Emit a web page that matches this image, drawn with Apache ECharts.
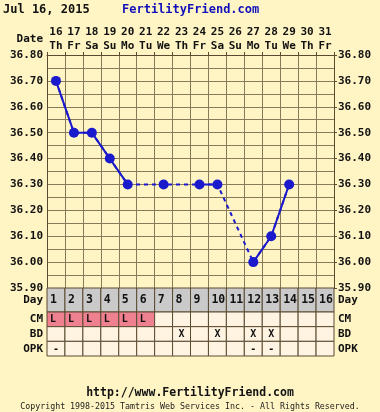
<!DOCTYPE html>
<html><head><meta charset="utf-8">
<script src="https://cdn.jsdelivr.net/npm/echarts@6/dist/echarts.min.js"></script>
<style>html,body{margin:0;padding:0;background:#FFF4C4;}#c{width:380px;height:412px;}</style>
</head><body><div id="c"></div>
<script>
const dates = ['16','17','18','19','20','21','22','23','24','25','26','27','28','29','30','31'];
const weekdays = ['Th','Fr','Sa','Su','Mo','Tu','We','Th','Fr','Sa','Su','Mo','Tu','We','Th','Fr'];
const temps = [36.70,36.50,36.50,36.40,36.30,null,36.30,null,36.30,36.30,null,36.00,36.10,36.30,null,null];
const cycleDays = ['1','2','3','4','5','6','7','8','9','10','11','12','13','14','15','16'];
const cm  = ['L','L','L','L','L','L','','','','','','','','','',''];
const bd  = ['','','','','','','','X','','X','','X','X','','',''];
const opk = ['-','','','','','','','','','','','-','-','','',''];
const yTicks = {min:35.9, max:36.8, interval:0.1};

const BG='#FFF4C4', GRID='#8A7A5A', DARK='#5A4A30', BLUE='#1A1ACC';
const MONO='"DejaVu Sans Mono", monospace';
const lab = {fontFamily:MONO, fontWeight:'bold', fontSize:11, color:'#111'};

const chart = echarts.init(document.getElementById('c'), null, {renderer:'canvas'});

function cellSeries(xAxisIndex, yAxisIndex, data, fillFn, fontSize){
  return {
    type:'custom', xAxisIndex, yAxisIndex, data, silent:true, z:5,
    renderItem(params, api){
      const c = api.coord([api.value(0), api.value(1)]);
      const s = api.size([1,1]);
      const txt = data[params.dataIndex][2];
      const row = data[params.dataIndex][3];
      const left = (row==='Day' || row==='CM');
      return {type:'group', children:[
        {type:'rect', shape:{x:c[0]-s[0]/2, y:c[1]-s[1]/2, width:s[0], height:s[1]},
         style:{fill:fillFn(txt,row), stroke:DARK, lineWidth:1}},
        {type:'text', x: left ? c[0]-s[0]/2+3 : c[0], y:c[1]+0.5, style:{text:txt, fill:'#111', fontFamily:MONO,
          fontWeight:'bold', fontSize:fontSize, align: left ? 'left' : 'center', verticalAlign:'middle'}}
      ]};
    }
  };
}

const dayData = cycleDays.map((d,i)=>[i,0,d,'Day']);
const rowNames = ['CM','BD','OPK'];
const obsData = [];
[cm,bd,opk].forEach((arr,r)=>arr.forEach((v,i)=>obsData.push([i,r,v,rowNames[r]])));

const option = {
  backgroundColor: BG,
  animation:false,
  grid:[
    {left:47, right:46, top:55, height:233},
    {left:47, right:46, top:288, height:24},
    {left:47, right:46, top:312, height:44}
  ],
  xAxis:[
    {gridIndex:0, type:'category', data:dates, boundaryGap:true, position:'bottom',
     axisLine:{show:false}, axisTick:{show:false}, axisLabel:{show:false},
     splitLine:{show:true, interval:0, lineStyle:{color:GRID, width:1}}},
    {gridIndex:0, type:'category', data:dates, boundaryGap:true, position:'top',
     axisLine:{show:true, lineStyle:{color:DARK}}, axisTick:{show:true, length:3, inside:false, interval:0, lineStyle:{color:DARK}},
     axisLabel:{interval:0, margin:2, formatter:(v,i)=>'{d|'+v+'}\n{w|'+weekdays[i]+'}',
       rich:{d:{...lab, lineHeight:14}, w:{...lab, lineHeight:14}}}},
    {gridIndex:1, type:'category', data:cycleDays, axisLine:{show:false}, axisTick:{show:false}, axisLabel:{show:false}, splitLine:{show:false}},
    {gridIndex:2, type:'category', data:cycleDays, axisLine:{show:false}, axisTick:{show:false}, axisLabel:{show:false}, splitLine:{show:false}}
  ],
  yAxis:[
    {gridIndex:0, type:'value', ...yTicks, position:'left',
     axisLine:{show:true, lineStyle:{color:DARK}}, axisTick:{show:false},
     axisLabel:{...lab, margin:4, formatter:v=>v.toFixed(2)},
     splitLine:{show:true, lineStyle:{color:GRID}},
     minorTick:{show:false, splitNumber:2}, minorSplitLine:{show:true, lineStyle:{color:GRID}}},
    {gridIndex:0, type:'value', ...yTicks, position:'right',
     axisLine:{show:true, lineStyle:{color:DARK}}, axisTick:{show:true, length:3, lineStyle:{color:DARK}},
     axisLabel:{...lab, margin:4, formatter:v=>v.toFixed(2)},
     splitLine:{show:false}},
    {gridIndex:1, type:'category', data:['Day'], position:'left', axisLine:{show:false}, axisTick:{show:false}, axisLabel:{...lab, margin:4}},
    {gridIndex:1, type:'category', data:['Day'], position:'right', axisLine:{show:false}, axisTick:{show:false}, axisLabel:{...lab, margin:4}},
    {gridIndex:2, type:'category', data:rowNames, inverse:true, position:'left', axisLine:{show:false}, axisTick:{show:false}, axisLabel:{...lab, margin:4}},
    {gridIndex:2, type:'category', data:rowNames, inverse:true, position:'right', axisLine:{show:false}, axisTick:{show:false}, axisLabel:{...lab, margin:4}}
  ],
  series:[
    {type:'line', xAxisIndex:0, yAxisIndex:0, data:temps, connectNulls:true, symbol:'none',
     lineStyle:{color:BLUE, width:2, type:[4,4]}, z:3},
    {type:'line', xAxisIndex:0, yAxisIndex:0, data:temps, connectNulls:false, symbol:'circle', symbolSize:10,
     itemStyle:{color:BLUE}, lineStyle:{color:BLUE, width:2}, z:4},
    cellSeries(2, 2, dayData, ()=> '#CACACA', 11.5),
    cellSeries(3, 4, obsData, (t,row)=> (row==='CM' && t==='L') ? '#EE8090' : '#FFF4E2', 10)
  ],
  graphic:[
    {type:'text', left:3, top:4, style:{text:'Jul 16, 2015', fontFamily:MONO, fontWeight:'bold', fontSize:12, fill:'#111'}},
    {type:'text', left:122, top:4, style:{text:'FertilityFriend.com', fontFamily:MONO, fontWeight:'bold', fontSize:12, fill:'#1111BB'}},
    {type:'text', right:337, top:34, style:{text:'Date', fontFamily:MONO, fontWeight:'bold', fontSize:11, fill:'#111', align:'right'}},
    {type:'text', left:'center', top:387, style:{text:'http://www.FertilityFriend.com', fontFamily:MONO, fontWeight:'bold', fontSize:11.5, fill:'#111'}},
    {type:'text', left:'center', top:403, style:{text:'Copyright 1998-2015 Tamtris Web Services Inc. - All Rights Reserved.', fontFamily:MONO, fontSize:8.3, fill:'#222'}}
  ]
};
chart.setOption(option);
</script></body></html>
